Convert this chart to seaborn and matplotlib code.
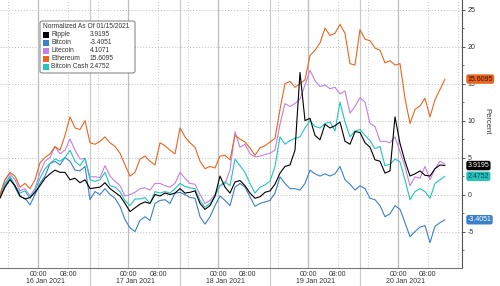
import numpy as np
import pandas as pd
import matplotlib
matplotlib.use("Agg")
import matplotlib.pyplot as plt
import matplotlib.transforms as mtransforms
from matplotlib.patches import FancyBboxPatch, Rectangle
import seaborn as sns

# ---------------- data ----------------
series_names = ["Ripple", "Bitcoin", "Litecoin", "Ethereum", "Bitcoin Cash"]
final_values = [3.9195, -3.4051, 4.1071, 15.6095, 2.4752]
legend_title = "Normalized As Of 01/15/2021"
start_time = "2021-01-15 13:52"
sample_freq = "80min"

ripple = [-0.5, 1.0, 2.0, 1.2, -0.2, -0.6, -0.4, 0.3, 1.2, 2.2,
          2.8, 3.3, 3.0, 3.0, 2.0, 2.2, 1.6, 2.0, 0.8, 0.9,
          1.0, 1.6, 0.8, 0.3, -0.2, -1.2, -2.3, -1.8, -1.3, -1.0,
          -1.2, 0.0, -0.2, 0.2, 0.0, 0.2, 0.8, 0.2, 0.3, 0.5,
          -1.2, -2.0, -1.5, -0.2, 2.5, 1.0, 0.2, 1.7, 1.9, 1.2,
          0.2, -0.5, -0.3, 0.3, 0.5, 1.4, 2.9, 3.8, 4.0, 6.0,
          16.5, 10.0, 10.3, 8.0, 7.4, 9.5, 9.0, 9.3, 9.8, 7.2,
          6.8, 8.5, 8.4, 7.0, 6.4, 4.7, 4.5, 2.9, 3.2, 10.5,
          6.9, 4.5, 2.5, 2.8, 3.2, 2.6, 2.5, 3.5, 4.0, 3.9195]
bitcoin = [-0.3, 1.2, 2.2, 1.0, -0.3, -0.5, -1.4, 0.0, 1.5, 2.5,
           4.2, 4.5, 4.0, 5.0, 4.5, 3.3, 3.2, 3.8, -0.7, 0.4,
           0.0, 0.8, 0.0, -0.5, -1.6, -3.4, -4.5, -5.0, -3.5, -3.0,
           -3.5, -1.2, -0.8, -0.7, -1.2, 0.2, 0.3, 0.0, -0.4, -0.5,
           -3.0, -4.0, -3.0, -1.5, -0.2, -0.8, -1.5, 1.0, 1.5, 1.0,
           -0.3, -1.6, -1.2, -1.0, -0.8, 0.2, 2.4, 1.5, 0.8, 0.8,
           0.6, 1.5, 3.3, 2.8, 2.5, 2.8, 2.5, 2.8, 3.8, 2.0,
           1.4, 0.6, 1.2, 0.8, -0.5, -0.7, -1.5, -3.0, -2.6, -1.5,
           -2.0, -3.8, -5.7, -5.0, -4.4, -4.2, -6.5, -4.3, -3.8, -3.4051]
litecoin = [0.0, 2.0, 2.8, 2.0, 0.5, 0.8, -0.2, 0.8, 3.0, 4.5,
            5.0, 6.5, 5.5, 6.0, 7.5, 6.0, 4.8, 4.9, 2.4, 2.4,
            2.3, 3.9, 2.5, 1.8, 1.2, -0.2, 0.0, 0.3, 0.8, 0.9,
            0.6, 1.5, 1.5, 1.2, 1.0, 1.5, 3.0, 2.2, 1.5, 1.4,
            0.0, -1.2, -0.8, 0.0, 1.2, 1.5, 3.3, 8.5, 6.4, 6.8,
            5.5, 5.1, 5.2, 5.4, 5.6, 6.0, 9.5, 12.3, 11.9, 12.3,
            12.9, 14.8, 16.8, 15.4, 14.6, 14.8, 14.3, 14.5, 13.6, 14.0,
            11.0, 11.9, 13.1, 12.5, 9.6, 9.2, 7.2, 7.2, 7.0, 7.8,
            5.8, 3.8, 1.2, 2.4, 2.2, 3.8, 2.0, 3.5, 4.5, 4.1071]
ethereum = [0.0, 2.0, 3.0, 2.5, 1.0, 1.5, 0.8, 2.0, 4.3, 5.0,
            5.5, 6.5, 6.0, 8.0, 10.5, 9.0, 8.8, 10.0, 7.0, 6.8,
            7.2, 7.8, 7.0, 6.5, 5.6, 4.0, 2.5, 3.0, 4.8, 5.2,
            4.5, 4.0, 7.0, 6.6, 6.0, 5.5, 9.0, 7.8, 7.0, 6.4,
            4.5, 3.5, 3.8, 3.6, 5.2, 5.3, 4.7, 8.0, 7.5, 7.1,
            6.3, 5.3, 6.3, 6.6, 7.1, 7.6, 11.5, 15.0, 15.3, 14.5,
            15.0, 15.5, 18.8, 19.5, 20.5, 22.5, 21.5, 21.8, 23.0, 21.8,
            17.7, 17.5, 22.3, 21.0, 20.8, 19.8, 19.5, 17.8, 18.1, 17.5,
            17.7, 13.0, 9.6, 11.5, 12.0, 13.0, 10.5, 12.8, 14.2, 15.6095]
bitcoin_cash = [0.0, 1.5, 2.5, 1.2, 0.2, 0.5, -0.5, 0.5, 2.2, 3.5,
                4.2, 4.8, 4.5, 5.0, 6.0, 4.5, 3.9, 4.9, 2.0, 1.8,
                2.0, 3.0, 1.2, 1.0, 0.4, -0.8, -1.5, -0.6, -0.6, -0.4,
                -1.2, 0.4, 0.2, 0.4, 0.2, 0.8, 1.5, 1.1, 0.9, 0.8,
                -0.8, -1.7, -1.2, -0.2, 1.2, 1.7, 1.2, 4.8, 3.9, 3.0,
                1.5, 0.2, 1.0, 1.3, 1.8, 3.8, 7.8, 6.8, 7.3, 7.6,
                7.8, 9.0, 10.0, 9.2, 9.0, 9.6, 9.8, 8.6, 12.5, 9.8,
                7.8, 8.6, 8.8, 8.0, 7.3, 6.2, 6.5, 3.9, 4.1, 4.8,
                4.4, 2.0, -0.7, 0.4, 0.8, 0.4, -0.5, 1.5, 2.0, 2.4752]

days = ["2021-01-16", "2021-01-17", "2021-01-18", "2021-01-19", "2021-01-20"]
day_labels = ["16 Jan 2021", "17 Jan 2021", "18 Jan 2021", "19 Jan 2021", "20 Jan 2021"]
y_ticks = [-5, 0, 5, 10, 15, 20, 25]

colors = {"Ripple": "#000000", "Bitcoin": "#3b80cc", "Litecoin": "#c27fe6",
          "Ethereum": "#e8661f", "Bitcoin Cash": "#22c4bf"}
tag_text = {"Ripple": "white", "Bitcoin": "white", "Litecoin": "black",
            "Ethereum": "#3a0d00", "Bitcoin Cash": "#0d3b3a"}

# ---------------- build frame ----------------
times = pd.date_range(start_time, periods=len(ripple), freq=sample_freq)
values = {"Ripple": ripple, "Bitcoin": bitcoin, "Litecoin": litecoin,
          "Ethereum": ethereum, "Bitcoin Cash": bitcoin_cash}
df = pd.concat([pd.DataFrame({"time": times, "value": v, "coin": k})
                for k, v in values.items()], ignore_index=True)

sns.set_style("white")
plt.rcParams["font.family"] = ["Liberation Sans", "DejaVu Sans"]

W, H = 500, 286
fig = plt.figure(figsize=(W / 100, H / 100), dpi=100)
ax_l, ax_r, ax_b = 0, 462, 268
ax = fig.add_axes([ax_l / W, 1 - ax_b / H, (ax_r - ax_l) / W, ax_b / H])

t0 = times[0]
xmax = t0 + pd.Timedelta(minutes=462 * 16)
ax.set_xlim(t0, xmax)
ax.set_ylim(-9.93, 26.3)

# grid
for yv in y_ticks:
    ax.axhline(yv, color="#b9b9b9", lw=0.7, ls=(0, (1, 2)), zorder=0)
for d in days:
    d0 = pd.Timestamp(d)
    ax.axvline(d0, color="#bcbcbc", lw=0.9, zorder=0)
    for h in (8, 16):
        t = d0 + pd.Timedelta(hours=h)
        if t < xmax:
            ax.axvline(t, color="#c4c4c4", lw=0.7, ls=(0, (1, 2)), zorder=0)
ax.axvline(pd.Timestamp("2021-01-15 16:00"), color="#c4c4c4", lw=0.7, ls=(0, (1, 2)), zorder=0)

# separators (extend below axis)
trans_sep = mtransforms.blended_transform_factory(ax.transData, ax.transAxes)
for k in range(1, 5):
    t = t0 + pd.Timedelta(hours=24 * k)
    ax.plot([t, t], [-0.07, 1.0], transform=trans_sep, color="#c8c8c8", lw=0.8,
            clip_on=False, zorder=0)

draw_order = ["Bitcoin", "Litecoin", "Bitcoin Cash", "Ethereum", "Ripple"]
sns.lineplot(data=df, x="time", y="value", hue="coin", hue_order=draw_order,
             palette=colors, linewidth=0.8, legend=False, ax=ax, zorder=3)

# axes styling
for s in ("left", "top"):
    ax.spines[s].set_visible(False)
ax.spines["right"].set_color("#555555")
ax.spines["right"].set_linewidth(0.8)
ax.spines["bottom"].set_color("#777777")
ax.spines["bottom"].set_linewidth(0.8)
ax.set_xlabel("")
ax.set_ylabel("")

ax.yaxis.tick_right()
ax.set_yticks(y_ticks)
ax.set_yticklabels([str(v) for v in y_ticks])
ax.set_yticks([v + 2.5 for v in [-10] + y_ticks[:-1]], minor=True)
ax.tick_params(axis="y", which="major", length=2.5, width=0.7, color="#555555",
               labelsize=5, pad=1.5, labelcolor="#333333")
ax.tick_params(axis="y", which="minor", length=1.5, width=0.6, color="#555555")

xt, xl = [], []
for d in days:
    d0 = pd.Timestamp(d)
    xt += [d0, d0 + pd.Timedelta(hours=8)]
    xl += ["00:00", "08:00"]
ax.set_xticks(xt)
ax.set_xticklabels(xl)
ax.tick_params(axis="x", length=1.5, width=0.6, color="#777777", labelsize=5,
               pad=1.0, labelcolor="#333333")

trans_x = mtransforms.blended_transform_factory(ax.transData, ax.transAxes)
for d, lab in zip(days, day_labels):
    ax.text(pd.Timestamp(d) + pd.Timedelta(hours=2), -0.036, lab, transform=trans_x,
            ha="center", va="top", fontsize=5, color="#333333")

fig.text(487 / W, 1 - 121 / H, "Percent", rotation=270, ha="center", va="center",
         fontsize=5.5, color="#333333")

# right value tags
trans_tag = mtransforms.blended_transform_factory(ax.transAxes, ax.transData)
for name in ["Ethereum", "Bitcoin Cash", "Ripple", "Bitcoin"]:
    v = final_values[series_names.index(name)]
    ax.text(1.012, v, f"{v:.4f}", transform=trans_tag, ha="left", va="center",
            fontsize=5, color=tag_text[name], clip_on=False, zorder=10,
            bbox=dict(boxstyle="round,pad=0.18,rounding_size=0.3", fc=colors[name], ec="none"))

# legend box
lx0, ly0, lx1, ly1 = 40, 21, 135, 73
box = FancyBboxPatch((lx0 / W, 1 - ly1 / H), (lx1 - lx0) / W, (ly1 - ly0) / H,
                     boxstyle="round,pad=0,rounding_size=0.006", transform=fig.transFigure,
                     fc="white", ec="#7a7a7a", lw=0.7, zorder=20)
fig.add_artist(box)
fig.text(43 / W, 1 - 27 / H, legend_title, ha="left", va="center", fontsize=4.8,
         color="#333333", zorder=21)
for i, (name, v) in enumerate(zip(series_names, final_values)):
    yy = 35 + 8 * i
    fig.add_artist(Rectangle((43 / W, 1 - (yy + 2.8) / H), 5.5 / W, 5.5 / H,
                             transform=fig.transFigure, fc=colors[name], ec="none", zorder=21))
    fig.text(51 / W, 1 - yy / H, name, ha="left", va="center", fontsize=4.8,
             color="#333333", zorder=21)
    fig.text(90 / W, 1 - yy / H, f"{v:.4f}", ha="left", va="center", fontsize=4.8,
             color="#333333", zorder=21)

fig.savefig("out.png", dpi=100)
